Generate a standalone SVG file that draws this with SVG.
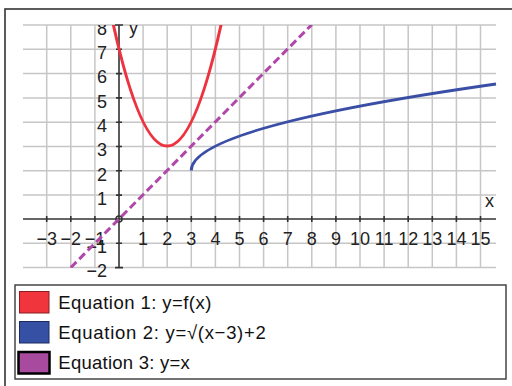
<svg xmlns="http://www.w3.org/2000/svg" width="512" height="386" viewBox="0 0 512 386">
<style>
.grid{stroke:#c6c6c6;stroke-width:1.5;fill:none}
.axis{stroke:#333;stroke-width:1.6;fill:none}
.lbl{font-family:"Liberation Sans",Arial,sans-serif;font-size:18px;fill:#222}
.xl{text-anchor:middle}
.yl{text-anchor:end}
.leg{font-family:"Liberation Sans",Arial,sans-serif;font-size:18.5px;fill:#111}
.curve{fill:none;stroke-width:3;stroke-linecap:butt}
</style>
<defs>
<clipPath id="plot"><rect x="20" y="25" width="477" height="243"/></clipPath>
<clipPath id="lblclip"><rect x="0" y="25" width="512" height="270"/></clipPath>
</defs>
<rect x="0" y="0" width="512" height="386" fill="#fff"/>
<rect x="5" y="9" width="530" height="400" fill="none" stroke="#333" stroke-width="1.6"/>
<g id="grid" class="grid">
<path d="M23 25H496M23 49.3H496M23 73.6H496M23 97.9H496M23 122.2H496M23 146.5H496M23 170.8H496M23 195.1H496M23 243.3H496M23 267.6H496"/>
<path d="M46.7 25V267.6M70.8 25V267.6M94.9 25V267.6M143.1 25V267.6M167.2 25V267.6M191.3 25V267.6M215.4 25V267.6M239.5 25V267.6M263.6 25V267.6M287.7 25V267.6M311.8 25V267.6M335.9 25V267.6M360 25V267.6M384.1 25V267.6M408.2 25V267.6M432.3 25V267.6M456.4 25V267.6M480.5 25V267.6"/>
</g>
<g id="axes" class="axis">
<path d="M23 219H496"/>
<path d="M119 25V267.6"/>
<path d="M46.7 216V222M70.8 216V222M94.9 216V222M143.1 216V222M167.2 216V222M191.3 216V222M215.4 216V222M239.5 216V222M263.6 216V222M287.7 216V222M311.8 216V222M335.9 216V222M360 216V222M384.1 216V222M408.2 216V222M432.3 216V222M456.4 216V222M480.5 216V222"/>
<path d="M115 25H123M116 49.3H122M116 73.6H122M116 97.9H122M116 122.2H122M116 146.5H122M116 170.8H122M116 195.1H122M116 243.3H122M115 267.6H123"/>
<circle cx="119" cy="219" r="3"/>
</g>
<g id="labels" class="lbl" clip-path="url(#lblclip)">
<g class="xl">
<text x="46.7" y="244.5">−3</text>
<text x="70.8" y="244.5">−2</text>
<text x="94.9" y="244.5">−1</text>
<text x="143.1" y="244.5">1</text>
<text x="167.2" y="244.5">2</text>
<text x="191.3" y="244.5">3</text>
<text x="215.4" y="244.5">4</text>
<text x="239.5" y="244.5">5</text>
<text x="263.6" y="244.5">6</text>
<text x="287.7" y="244.5">7</text>
<text x="311.8" y="244.5">8</text>
<text x="335.9" y="244.5">9</text>
<text x="360" y="244.5">10</text>
<text x="384.1" y="244.5">11</text>
<text x="408.2" y="244.5">12</text>
<text x="432.3" y="244.5">13</text>
<text x="456.4" y="244.5">14</text>
<text x="480.5" y="244.5">15</text>
</g>
<g class="yl">
<text x="107" y="35">8</text>
<text x="107" y="59">7</text>
<text x="107" y="83.3">6</text>
<text x="107" y="107.6">5</text>
<text x="107" y="131.9">4</text>
<text x="107" y="156.2">3</text>
<text x="107" y="180.5">2</text>
<text x="107" y="204.8">1</text>
<text x="107" y="253">−1</text>
<text x="107" y="277">−2</text>
</g>
<text x="129" y="34">y</text>
<text x="485" y="206.5">x</text>
</g>
<g id="curves" clip-path="url(#plot)">
<path id="eq1" class="curve" stroke="#ee3340" d="M109.36 6.13Q167.2 286.07 225.04 6.13"/>
<path id="eq2" class="curve" stroke="#3a4ea6" d="M191.3 170.4Q191.3 127.2 496 84"/>
<path id="eq3" class="curve" stroke="#b048aa" stroke-dasharray="8 4" d="M70.8 267.6L311.8 24.6"/>
</g>
<g id="legend">
<rect x="15" y="285" width="491" height="94" fill="#fff" stroke="#444" stroke-width="1.5"/>
<g id="leg1">
<rect x="19.5" y="291.5" width="29.5" height="21.5" fill="#f0363c" stroke="#8a1c22" stroke-width="1"/>
<text class="leg" x="58.3" y="308.5" textLength="153" lengthAdjust="spacing">Equation 1: y=f(x)</text>
</g>
<g id="leg2">
<rect x="19.5" y="321.5" width="29.5" height="21.5" fill="#3650a4" stroke="#1c2a60" stroke-width="1"/>
<text class="leg" x="58.3" y="338.5" textLength="207.5" lengthAdjust="spacing">Equation 2: y=√(x−3)+2</text>
</g>
<g id="leg3">
<rect x="18.5" y="352" width="31" height="21.5" fill="#a84a9e" stroke="#000" stroke-width="2.5"/>
<text class="leg" x="58.3" y="368.5" textLength="131.5" lengthAdjust="spacing">Equation 3: y=x</text>
</g>
</g>
</svg>
